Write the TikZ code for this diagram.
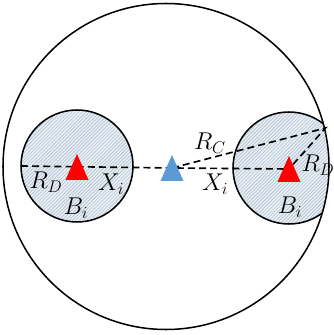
\documentclass[tikz,border=0pt]{standalone}
\usetikzlibrary{patterns,calc}
\definecolor{skyblue}{HTML}{5B9BD5}
\definecolor{ballfill}{HTML}{E8EEF4}
\definecolor{hatch}{HTML}{A9BACB}
\tikzset{
  zone/.style={draw, line width=1.3pt, preaction={fill=ballfill}, pattern=north east lines, pattern color=hatch},
  link/.style={line width=1.4pt, dash pattern=on 6pt off 3.5pt},
  lbl/.style={font=\huge}
}
\newcommand{\marker}[2]{\fill[#1] ($(#2)+(-11.5,-13)$) -- ($(#2)+(11.5,-13)$) -- ($(#2)+(0,13)$) -- cycle;}
\begin{document}
\begin{tikzpicture}[x=0.03cm, y=0.03cm]
    \useasboundingbox (0,0) rectangle (333,335);
    % the two balls, the right one cut by the outer region
    \draw[zone] (77,169) circle (56);
    \begin{scope}
      \clip (166,168.5) circle (163);
      \draw[zone] (289,167) circle (56);
    \end{scope}
    \draw[line width=1.3pt] (166,168.5) circle (163);
    % centres
    \coordinate (west) at (21,169);
    \coordinate (ctr) at (172,167);
    \coordinate (tip) at (325.5,207);
    \coordinate (redL) at (77,168);
    \coordinate (redR) at (289,166);
    \draw[link] (west) -- (ctr) -- (redR);
    \draw[link] (ctr) -- (tip) -- (redR);
    \marker{red}{redL}
    \marker{red}{redR}
    \marker{skyblue}{ctr}
    % labels
    \node[lbl] (rdl) at (46,153) {$R_D$};
    \node[lbl] (xil) at (111,151) {$X_i$};
    \node[lbl] (bil) at (76,127) {$B_i$};
    \node[lbl] (rc) at (210,192) {$R_C$};
    \node[lbl] (xir) at (215,151) {$X_i$};
    \node[lbl] (rdr) at (318,170) {$R_D$};
    \node[lbl] (bir) at (290,128) {$B_i$};
\end{tikzpicture}
\end{document}
